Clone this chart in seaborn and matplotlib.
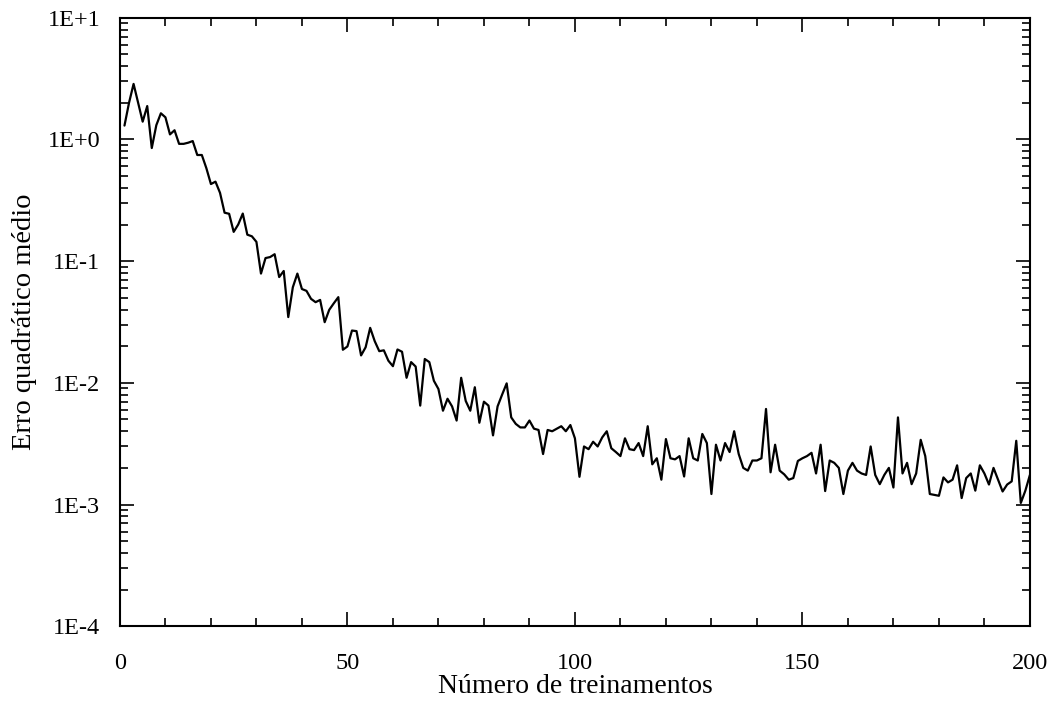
import pandas as pd
import seaborn as sns
import matplotlib
matplotlib.use("Agg")
import matplotlib.pyplot as plt
from matplotlib.ticker import FixedLocator, FixedFormatter, MultipleLocator, LogLocator, NullFormatter

# training number (x) and mean squared error (y)
treinamentos = list(range(1, 201))
erro = [
    1.3, 2.0, 2.86, 2.0, 1.4, 1.88, 0.85, 1.31, 1.64, 1.52,
    1.1, 1.19, 0.92, 0.92, 0.94, 0.97, 0.745, 0.745, 0.58, 0.43,
    0.45, 0.364, 0.25, 0.245, 0.174, 0.2, 0.246, 0.165, 0.16, 0.144,
    0.079, 0.106, 0.108, 0.114, 0.074, 0.083, 0.0347, 0.061, 0.079, 0.059,
    0.057, 0.049, 0.046, 0.048, 0.0315, 0.0398, 0.045, 0.0506, 0.0187, 0.0199,
    0.0269, 0.0266, 0.0168, 0.0196, 0.0283, 0.022, 0.0182, 0.0185, 0.0152, 0.0137,
    0.0188, 0.018, 0.011, 0.0148, 0.0136, 0.0065, 0.0157, 0.0148, 0.0104, 0.0089,
    0.0059, 0.0074, 0.0064, 0.0049, 0.011, 0.0071, 0.0059, 0.0092, 0.0047, 0.0070,
    0.0065, 0.0037, 0.0064, 0.0080, 0.0099, 0.0052, 0.0046, 0.0043, 0.0043, 0.0049,
    0.0042, 0.0041, 0.0026, 0.0041, 0.0040, 0.0042, 0.0044, 0.0040, 0.0045, 0.0035,
    0.00169, 0.0030, 0.00285, 0.00328, 0.0030, 0.00356, 0.0040, 0.0029, 0.0027, 0.0025,
    0.0035, 0.00285, 0.0028, 0.0032, 0.0025, 0.0044, 0.00214, 0.0024, 0.0016, 0.00345,
    0.0024, 0.00235, 0.0025, 0.0017, 0.0035, 0.0024, 0.0023, 0.0038, 0.0032, 0.00122,
    0.0031, 0.0023, 0.0032, 0.0027, 0.0040, 0.0026, 0.0020, 0.0019, 0.0023, 0.0023,
    0.0024, 0.0061, 0.00184, 0.0031, 0.0019, 0.00177, 0.0016, 0.00165, 0.00228, 0.0024,
    0.0025, 0.00266, 0.0018, 0.0031, 0.00129, 0.0023, 0.0022, 0.0020, 0.00122, 0.0019,
    0.0022, 0.0019, 0.0018, 0.00175, 0.0030, 0.00175, 0.00147, 0.00175, 0.0020, 0.00138,
    0.0052, 0.0018, 0.0022, 0.00147, 0.0018, 0.0034, 0.0025, 0.00122, 0.0012, 0.00118,
    0.00167, 0.00152, 0.0016, 0.0021, 0.00113, 0.00165, 0.0018, 0.0013, 0.0021, 0.0018,
    0.00146, 0.0020, 0.0016, 0.00128, 0.00146, 0.00155, 0.00334, 0.00103, 0.0013, 0.00175,
]

y_ticks = [1e-4, 1e-3, 1e-2, 1e-1, 1e0, 1e1]
y_labels = ["1E-4", "1E-3", "1E-2", "1E-1", "1E+0", "1E+1"]
x_ticks = [0, 50, 100, 150, 200]


def main():
    sns.set_style("ticks")
    plt.rcParams["font.family"] = ["Liberation Serif", "DejaVu Serif"]

    df = pd.DataFrame({"x": treinamentos, "y": erro})

    fig = plt.figure(figsize=(10.52, 7.10), dpi=100)
    ax = fig.add_axes([0.114, 0.118, 0.865, 0.857])
    sns.lineplot(data=df, x="x", y="y", ax=ax, color="black", linewidth=1.6)

    ax.set_yscale("log")
    ax.set_xlim(0, 200)
    ax.set_ylim(1e-4, 1e1)

    ax.yaxis.set_major_locator(FixedLocator(y_ticks))
    ax.yaxis.set_major_formatter(FixedFormatter(y_labels))
    ax.yaxis.set_minor_locator(LogLocator(base=10, subs=range(2, 10)))
    ax.yaxis.set_minor_formatter(NullFormatter())
    ax.xaxis.set_major_locator(FixedLocator(x_ticks))
    ax.xaxis.set_minor_locator(MultipleLocator(10))

    ax.tick_params(which="both", direction="in", top=True, right=True,
                   width=1.2, labelsize=17.5, colors="black", labelcolor="black")
    ax.tick_params(which="major", length=10)
    ax.tick_params(which="minor", length=6)
    ax.tick_params(axis="x", which="major", pad=19)
    ax.tick_params(axis="y", which="major", pad=14)
    for s in ax.spines.values():
        s.set_linewidth(1.5)
        s.set_color("black")

    ax.set_xlabel("Número de treinamentos", fontsize=20, labelpad=0, color="black")
    ax.set_ylabel("Erro quadrático médio", fontsize=20.5, labelpad=8, color="black")

    fig.savefig("out.png", dpi=100)
    plt.close()


if __name__ == "__main__":
    main()
